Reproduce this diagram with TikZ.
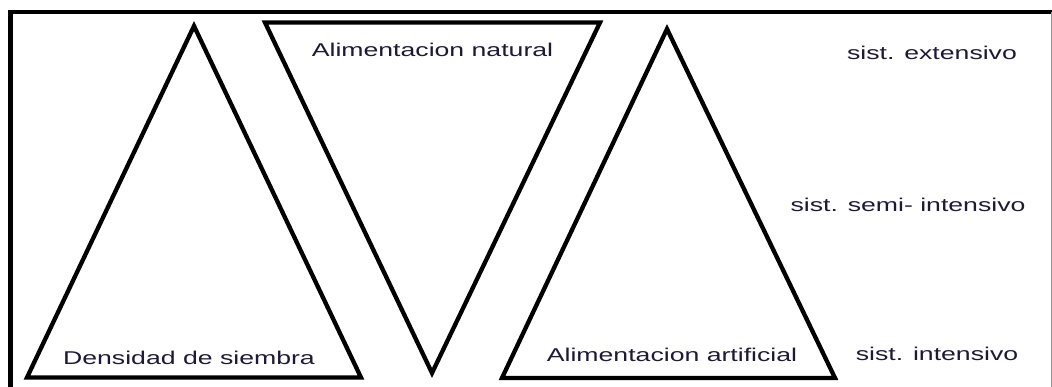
\documentclass[tikz,border=0pt]{standalone}
\usepackage{fontspec}
\newfontfamily\lbl[FakeStretch=1.44]{Liberation Sans}
\definecolor{txt}{RGB}{30,25,55}
\definecolor{edge}{RGB}{150,150,150}
\begin{document}
\begin{tikzpicture}[x=1pt,y=-1pt,
  tri/.style={draw=black,line width=4.3pt,line join=miter},
  lab/.style={font=\lbl\fontsize{18.5}{20}\selectfont,text=txt,inner sep=0pt,anchor=base}]
\useasboundingbox (0,0) rectangle (1052,387);
\fill[white] (0,0) rectangle (1052,387);
% frame
\draw[line width=4.8pt,line cap=butt,line join=miter] (10.5,387) -- (10.5,12) -- (1052,12);
\draw[edge,line width=1pt] (1051,12) -- (1051,387);
% triangles
\draw[tri] (27,377.5) -- (194,26) -- (361,377.5) -- cycle;
\draw[tri] (265,22.5) -- (600,22.5) -- (432,373) -- cycle;
\draw[tri] (502,378) -- (667,29) -- (835,378) -- cycle;
% labels
\node[lab] (dens) at (189,364) {Densidad de siembra};
\node[lab] (anat) at (432.5,57) {Alimentacion natural};
\node[lab] (aart) at (672,361.5) {Alimentacion artificial};
\node[lab] (ext) at (932,59.5) {sist. extensivo};
\node[lab] (semi) at (908,212) {sist. semi- intensivo};
\node[lab] (int) at (937,360) {sist. intensivo};
\end{tikzpicture}
\end{document}
